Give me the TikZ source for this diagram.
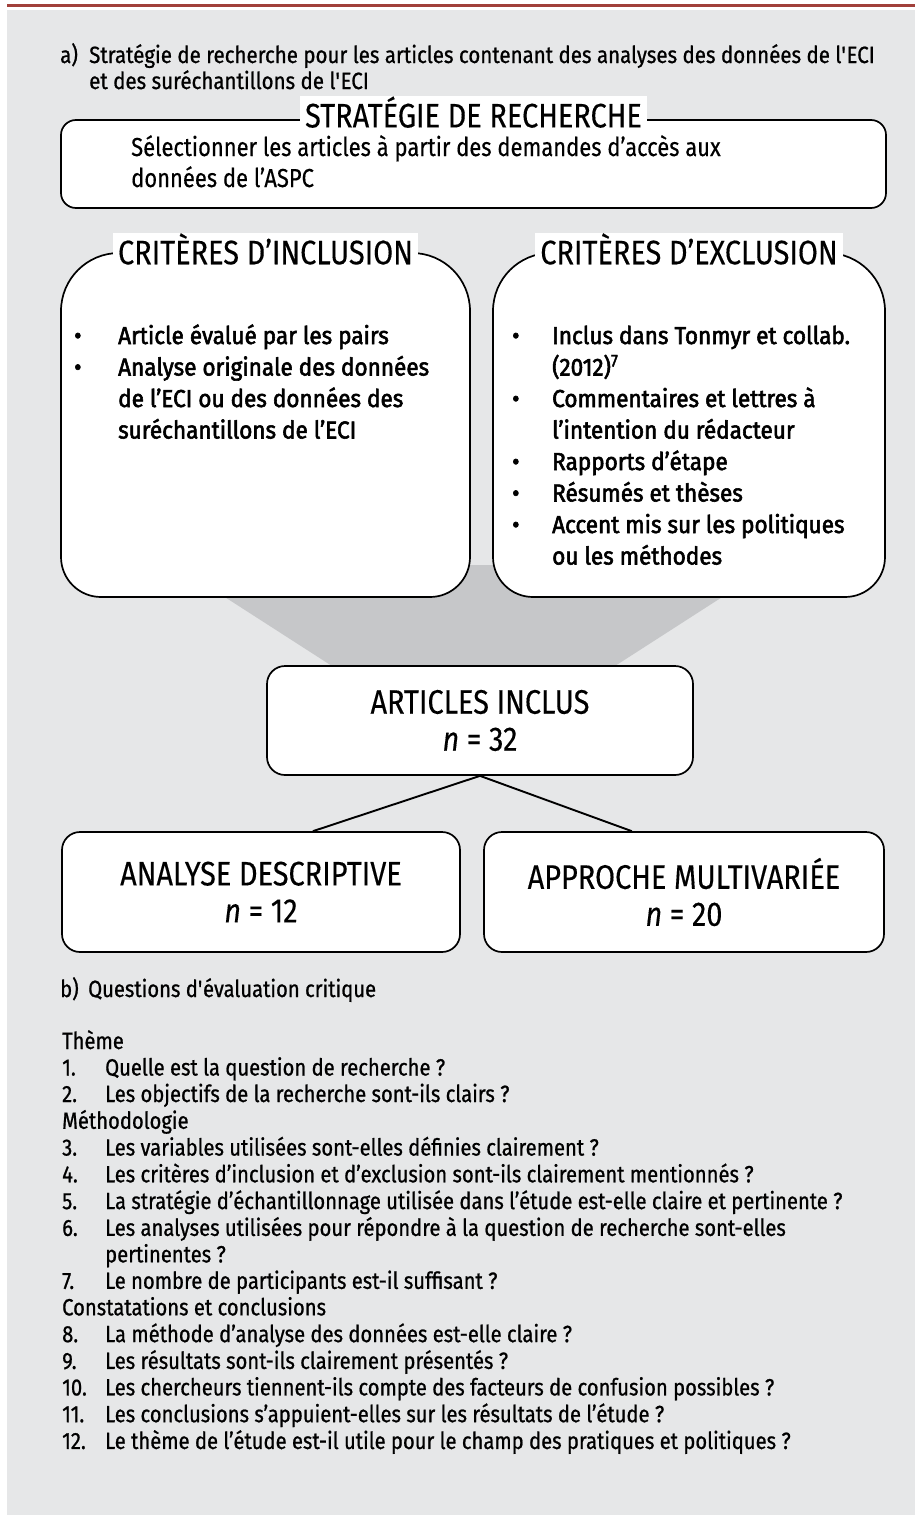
\documentclass[tikz,border=0pt]{standalone}
\usepackage{fontspec}
\usetikzlibrary{calc}
\setmainfont{Fira Sans}
\newfontfamily\condf[FakeStretch=0.85,FakeBold=0.3]{Fira Sans}
\newfontfamily\stf[FakeStretch=0.845,FakeBold=0.4]{Fira Sans}
\newfontfamily\qf[FakeStretch=0.86,FakeBold=0.8]{Fira Sans}
\newfontfamily\af[FakeStretch=0.872,FakeBold=0.8]{Fira Sans}
\newfontfamily\bulf[FakeStretch=0.92,FakeBold=2.3]{Fira Sans}
\definecolor{bggray}{HTML}{E6E7E8}
\definecolor{trapgray}{HTML}{C6C7C9}
\definecolor{redline}{HTML}{A1403B}
\newcommand{\sq}{\textquotesingle}
\tikzset{
  rbox/.style={draw=black, line width=1.7pt, fill=white},
  ttl/.style={fill=white, inner xsep=5pt, inner ysep=0pt, font={\condf\fontsize{34}{36}\selectfont}},
  bigtxt/.style={align=center, font={\condf\fontsize{34}{37}\selectfont}},
  qtxt/.style={anchor=base west, inner sep=0pt, font={\qf\fontsize{23.5}{26.5}\selectfont}},
  bultxt/.style={anchor=base west, inner sep=0pt, font={\bulf\fontsize{24.5}{31.5}\selectfont}},
  conn/.style={line width=1.9pt, draw=black}
}
\begin{document}
\begin{tikzpicture}[x=1pt,y=-1pt]
\useasboundingbox (0,0) rectangle (915,1515);
\fill[bggray] (7,9.5) rectangle (915,1515);
\fill[redline] (7,3.5) rectangle (915,7);

% a) heading
\node[qtxt, font={\af\fontsize{23.5}{24}\selectfont}] (qa) at (60,63) {\begin{tabular}[t]{@{}p{29pt}@{}l@{}}a) & Stratégie de recherche pour les articles contenant des analyses des données de l\sq ECI\\ & et des suréchantillons de l\sq ECI\end{tabular}};

% strategy box
\node[rbox, rounded corners=15pt, minimum width=825pt, minimum height=88pt] (strat) at (473.5,164) {};
\node[ttl] (strattl) at ($(strat.north)+(0,-7)$) {STRATÉGIE DE RECHERCHE};
\node[anchor=base west, inner sep=0pt, font={\stf\fontsize{26}{31}\selectfont}] (strattxt) at (131,156) {\begin{tabular}[t]{@{}l@{}}Sélectionner les articles à partir des demandes d’accès aux\\données de l’ASPC\end{tabular}};

% funnel
\fill[trapgray] (175,565) -- (772,565) -- (615,666) -- (332,666) -- cycle;

% criteria boxes
\draw[rbox] (119,253) -- (412,253) .. controls (444,253) and (470,279) .. (470,311) -- (470,557) .. controls (470,579.1) and (452.1,597) .. (430,597) -- (101,597) .. controls (78.9,597) and (61,579.1) .. (61,557) -- (61,311) .. controls (61,279) and (87,253) .. (119,253) -- cycle;
\draw[rbox] (551,253) -- (827,253) .. controls (859,253) and (885,279) .. (885,311) -- (885,557) .. controls (885,579.1) and (867.1,597) .. (845,597) -- (533,597) .. controls (510.9,597) and (493,579.1) .. (493,557) -- (493,311) .. controls (493,279) and (519,253) .. (551,253) -- cycle;
\node[ttl] (inctl) at (265.5,249) {CRITÈRES D’INCLUSION};
\node[ttl] (exctl) at (689,249) {CRITÈRES D’EXCLUSION};

\node[bultxt] (incl) at (74,344) {\begin{tabular}[t]{@{}p{44pt}@{}l@{}}
• & Article évalué par les pairs\\
• & Analyse originale des données\\
 & de l’ECI ou des données des\\
 & suréchantillons de l’ECI\end{tabular}};
\node[bultxt] (excl) at (512,344) {\begin{tabular}[t]{@{}p{40pt}@{}l@{}}
• & Inclus dans Tonmyr et collab.\\
 & (2012)\textsuperscript{7}\\
• & Commentaires et lettres à\\
 & l’intention du rédacteur\\
• & Rapports d’étape\\
• & Résumés et thèses\\
• & Accent mis sur les politiques\\
 & ou les méthodes\end{tabular}};

% included articles
\node[rbox, rounded corners=18pt, minimum width=426pt, minimum height=109pt, bigtxt] (art) at (480,720.5) {ARTICLES INCLUS\\\textit{n} = 32};
\node[rbox, rounded corners=18pt, minimum width=398pt, minimum height=120pt, bigtxt] (desc) at (261,892) {ANALYSE DESCRIPTIVE\\\textit{n} = 12};
\node[rbox, rounded corners=18pt, minimum width=400pt, minimum height=120pt, bigtxt] (multi) at (684,892) {APPROCHE MULTIVARIÉE\\\textit{n} = 20};
\draw[conn] (art.south) -- ($(desc.north west)!0.63!(desc.north east)$);
\draw[conn] (art.south) -- ($(multi.north west)!0.37!(multi.north east)$);

% b) questions
\node[qtxt] (qb) at (60,997) {\begin{tabular}[t]{@{}p{28pt}@{}l@{}}b) & Questions d\sq évaluation critique\end{tabular}};
\node[qtxt] (qs) at (62,1049) {\begin{tabular}[t]{@{}p{43pt}@{}l@{}}
\multicolumn{2}{@{}l@{}}{Thème}\\
1. & Quelle est la question de recherche ?\\
2. & Les objectifs de la recherche sont-ils clairs ?\\
\multicolumn{2}{@{}l@{}}{Méthodologie}\\
3. & Les variables utilisées sont-elles définies clairement ?\\
4. & Les critères d’inclusion et d’exclusion sont-ils clairement mentionnés ?\\
5. & La stratégie d’échantillonnage utilisée dans l’étude est-elle claire et pertinente ?\\
6. & Les analyses utilisées pour répondre à la question de recherche sont-elles\\
 & pertinentes ?\\
7. & Le nombre de participants est-il suffisant ?\\
\multicolumn{2}{@{}l@{}}{Constatations et conclusions}\\
8. & La méthode d’analyse des données est-elle claire ?\\
9. & Les résultats sont-ils clairement présentés ?\\
10. & Les chercheurs tiennent-ils compte des facteurs de confusion possibles ?\\
11. & Les conclusions s’appuient-elles sur les résultats de l’étude ?\\
12. & Le thème de l’étude est-il utile pour le champ des pratiques et politiques ?
\end{tabular}};
\end{tikzpicture}
\end{document}
